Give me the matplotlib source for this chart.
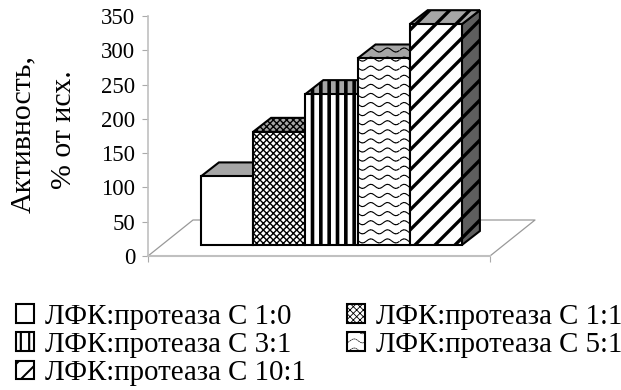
import numpy as np
import matplotlib
matplotlib.use('Agg')
import matplotlib.pyplot as plt
import matplotlib.hatch as mhatch
from matplotlib.patches import Patch
from matplotlib.path import Path

labels = ['ЛФК:протеаза С 1:0', 'ЛФК:протеаза С 1:1', 'ЛФК:протеаза С 3:1',
          'ЛФК:протеаза С 5:1', 'ЛФК:протеаза С 10:1']
values = [100, 165, 220, 272, 322]
yticks = [0, 50, 100, 150, 200, 250, 300, 350]

hatches = ['', 'xxxxx', '||', 'O', '*']
hatch_lw = [1.0, 1.0, 2.6, 0.8, 2.4]


class WaveHatch(mhatch.HatchPatternBase):
    # dotted wavy rows, like the Excel "wave" fill
    def __init__(self, hatch, density):
        self.on = hatch.count('O') > 0
        self.num_vertices = 11 * 48 * 2 if self.on else 0

    def set_vertices_and_codes(self, vertices, codes):
        if not self.on:
            return
        k = 0
        for r in range(11):
            for s in range(48):
                for t in (s, s + 0.55):
                    x = t / 48
                    vertices[k] = x, (r + 0.5) / 11 + 0.02 * np.sin(2 * np.pi * 6 * x)
                    codes[k] = Path.MOVETO if t == s else Path.LINETO
                    k += 1


class WideDiagHatch(mhatch.HatchPatternBase):
    def __init__(self, hatch, density):
        self.n = 10 if hatch.count('*') > 0 else 0
        self.num_vertices = (self.n + 1) * 2 if self.n else 0

    def set_vertices_and_codes(self, vertices, codes):
        if not self.n:
            return
        steps = np.linspace(-0.5, 0.5, self.n + 1)
        vertices[0::2, 0] = steps
        vertices[0::2, 1] = -steps
        vertices[1::2, 0] = 1 + steps
        vertices[1::2, 1] = 1 - steps
        codes[0::2] = Path.MOVETO
        codes[1::2] = Path.LINETO


mhatch._hatch_types[:] = [h for h in mhatch._hatch_types
                          if h not in (mhatch.LargeCircles, mhatch.Stars)]
mhatch._hatch_types += [WaveHatch, WideDiagHatch]


def with_hatch_lw(artist, lw):
    # each patch keeps its own hatch width
    artist._hatch_linewidth = lw


plt.rcParams['font.family'] = ['Liberation Serif', 'DejaVu Serif']

W, H = 621, 390
fig = plt.figure(figsize=(W / 100, H / 100), dpi=100)
left, right, y0, y350 = 148, 490, 256, 16
ax = fig.add_axes([left / W, 1 - y0 / H, (right - left) / W, (y0 - y350) / H])

px_x = 52.2                     # pixels per category
px_y = (y0 - y350) / 350        # pixels per unit
ax.set_xlim((left - 227) / px_x, (right - 227) / px_x)
ax.set_ylim(0, 350)

base = 11 / px_y
dx, dy = 18 / px_x, 14 / px_y
floor_dx, floor_dy = 45 / px_x, 36 / px_y
x0, x1 = ax.get_xlim()

# floor
ax.plot([x0, x0 + floor_dx, x1 + floor_dx, x1], [0, floor_dy, floor_dy, 0],
        color='#999999', lw=0.9, clip_on=False, zorder=1)

pos = np.arange(len(values))
for i, v in enumerate(values):
    l, r, t = pos[i] - 0.5, pos[i] + 0.5, base + v
    kw = dict(edgecolor='black', linewidth=1.5, hatch=hatches[i], clip_on=False,
              zorder=2 + i, joinstyle='miter')
    side = ax.fill([r, r + dx, r + dx, r], [base, base + dy, t + dy, t],
                   facecolor='#5e5e5e', **kw)[0]
    top = ax.fill([l, l + dx, r + dx, r], [t, t + dy, t + dy, t],
                  facecolor='#a6a6a6', **kw)[0]
    front = ax.bar(pos[i], v, width=1, bottom=base, facecolor='white', **kw)[0]
    for p in (side, top, front):
        with_hatch_lw(p, hatch_lw[i])

for s in ('top', 'right'):
    ax.spines[s].set_visible(False)
ax.spines['left'].set_color('#c0c0c0')
ax.spines['left'].set_linewidth(1.2)
ax.spines['bottom'].set_color('#c0c0c0')
ax.spines['bottom'].set_linewidth(1.5)
ax.set_yticks(yticks)
ax.tick_params(axis='y', length=4.5, width=0.8, color='#aaaaaa', labelsize=16.5, pad=4.5)
ax.set_xticks([x0, x1])
ax.set_xticklabels([])
ax.tick_params(axis='x', length=4.5, width=0.8, color='#aaaaaa')

fig.text(30 / W, 1 - 134 / H, 'Активность,', rotation=90, fontsize=21.5,
         ha='center', va='baseline', rotation_mode='anchor')
fig.text(71 / W, 1 - 130 / H, '% от исх.', rotation=90, fontsize=21.5,
         ha='center', va='baseline', rotation_mode='anchor')

# legend reads row by row in the reference, matplotlib fills columns first
order = [0, 2, 4, 1, 3]
handles = [Patch(facecolor='white', edgecolor='black', linewidth=1.5,
                 hatch=hatches[i], label=labels[i]) for i in order]
leg = fig.legend(handles=handles, ncol=2, loc='upper left',
                 bbox_to_anchor=(16 / W, 1 - 304 / H),
                 bbox_transform=fig.transFigure, frameon=False, fontsize=20.8,
                 handlelength=0.62, handleheight=0.62, handletextpad=0.38,
                 labelspacing=0.07, columnspacing=1.42, borderpad=0, borderaxespad=0)
for p, i in zip(leg.get_patches(), order):
    with_hatch_lw(p, hatch_lw[i] * 0.6)

fig.savefig('out.png', dpi=100)
plt.close(fig)
